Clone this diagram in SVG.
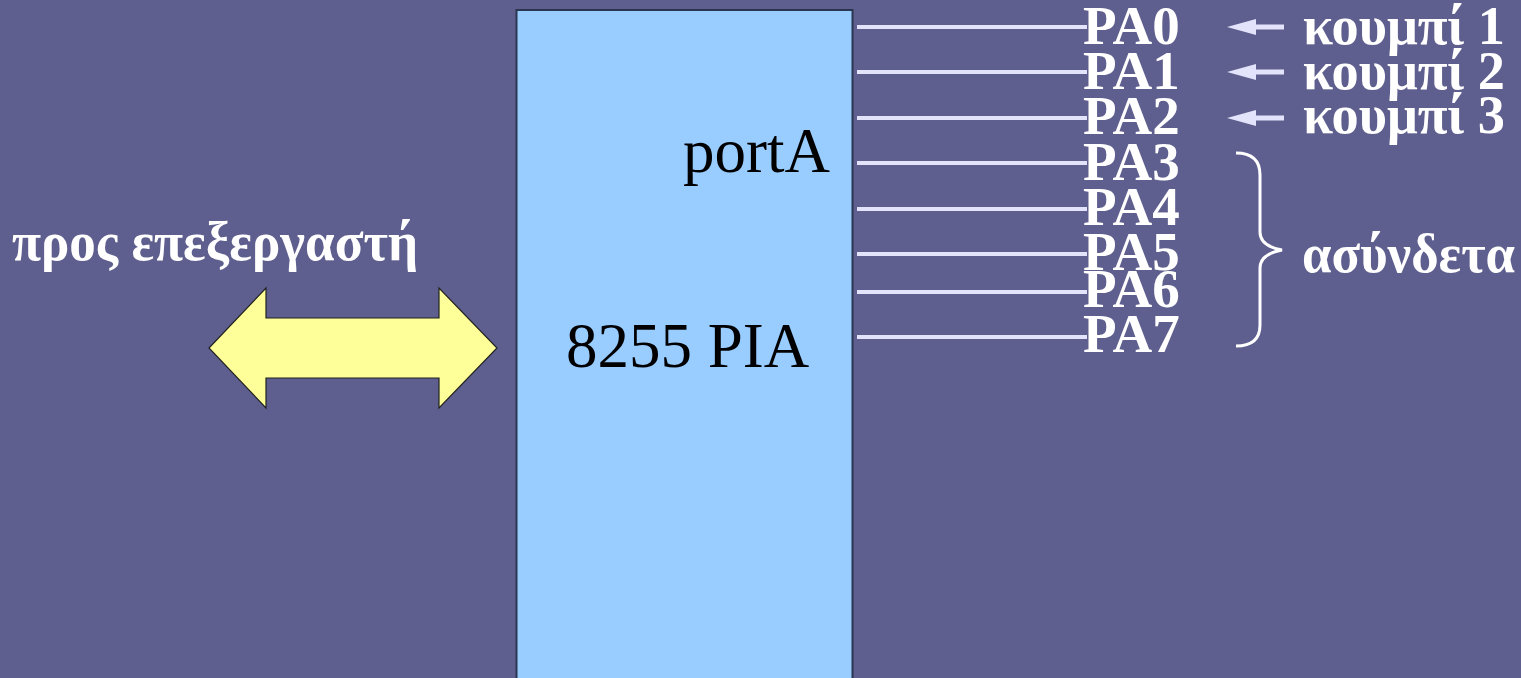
<svg xmlns="http://www.w3.org/2000/svg" width="1521" height="678" viewBox="0 0 1521 678">
<defs>
<style>
.pin{stroke:#e3e3fb;stroke-width:4;fill:none}
.shaft{stroke:#e3e3fb;stroke-width:5;fill:none}
.pa{font-family:"Liberation Serif","Times New Roman",serif;font-weight:bold;font-size:55px;fill:#ffffff}
.gr{font-family:"Liberation Serif","Times New Roman",serif;font-weight:bold;font-size:54px;fill:#ffffff}
.chip{font-family:"Liberation Serif","Times New Roman",serif;font-size:63px;fill:#000000}
.ah{fill:#e3e3fb}
</style>
</defs>
<rect x="0" y="0" width="1521" height="678" fill="#5f5f8f"/>
<g id="chip">
<rect x="516.5" y="10" width="336" height="690" fill="#99ccff" stroke="#2a3550" stroke-width="2"/>
<text class="chip" x="683" y="172">portA</text>
<text class="chip" x="566" y="367">8255 PIA</text>
</g>
<g id="bus">
<polygon points="209,348 266,288 266,318 439,318 439,288 497,348 439,408 439,378 266,378 266,408" fill="#ffff99" stroke="#222222" stroke-width="1.2"/>
<text class="gr" x="12" y="260" textLength="406" lengthAdjust="spacingAndGlyphs">προς επεξεργαστή</text>
</g>
<g id="connectors">
<line class="pin" x1="857" y1="27" x2="1087" y2="27"/>
<line class="pin" x1="857" y1="72" x2="1087" y2="72"/>
<line class="pin" x1="857" y1="118" x2="1087" y2="118"/>
<line class="pin" x1="857" y1="163" x2="1087" y2="163"/>
<line class="pin" x1="857" y1="209" x2="1087" y2="209"/>
<line class="pin" x1="857" y1="254" x2="1087" y2="254"/>
<line class="pin" x1="857" y1="292" x2="1087" y2="292"/>
<line class="pin" x1="857" y1="337" x2="1087" y2="337"/>
<line class="shaft" x1="1250" y1="27" x2="1284" y2="27"/>
<polygon class="ah" points="1227,27 1256,19 1256,35"/>
<line class="shaft" x1="1250" y1="72" x2="1284" y2="72"/>
<polygon class="ah" points="1227,72 1256,64 1256,80"/>
<line class="shaft" x1="1250" y1="118" x2="1284" y2="118"/>
<polygon class="ah" points="1227,118 1256,110 1256,126"/>
</g>
<g id="pins">
<text class="pa" x="1083" y="44">PA0</text>
<text class="pa" x="1083" y="89">PA1</text>
<text class="pa" x="1083" y="134">PA2</text>
<text class="pa" x="1083" y="180">PA3</text>
<text class="pa" x="1083" y="225">PA4</text>
<text class="pa" x="1083" y="270">PA5</text>
<text class="pa" x="1083" y="307">PA6</text>
<text class="pa" x="1083" y="352">PA7</text>
</g>
<g id="buttons">
<text class="gr" x="1303" y="44" textLength="202" lengthAdjust="spacingAndGlyphs">κουμπί 1</text>
<text class="gr" x="1303" y="89" textLength="202" lengthAdjust="spacingAndGlyphs">κουμπί 2</text>
<text class="gr" x="1303" y="133" textLength="202" lengthAdjust="spacingAndGlyphs">κουμπί 3</text>
</g>
<g id="unconnected">
<path d="M1236,153 Q1260,153 1260,175 L1260,232 Q1260,246 1282,250 Q1260,254 1260,268 L1260,325 Q1260,346 1236,346" fill="none" stroke="#ffffff" stroke-width="3"/>
<text class="gr" x="1302" y="272" textLength="213" lengthAdjust="spacingAndGlyphs">ασύνδετα</text>
</g>
</svg>
